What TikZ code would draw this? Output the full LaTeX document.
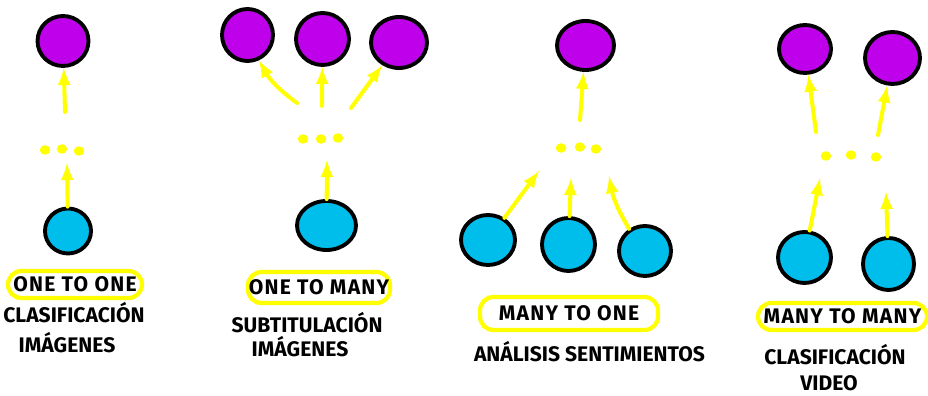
\documentclass[tikz,border=0pt]{standalone}
\usepackage{fontspec}
\setmainfont{Fira Sans}
\usepackage{tikz}
\usepackage{xcolor}
\usetikzlibrary{positioning, arrows}
\usetikzlibrary{shapes, positioning}
\definecolor{violeta}{RGB}{190,0,235}
\definecolor{celeste}{RGB}{0,190,236}
\definecolor{amarillo}{RGB}{255,255,0}

\begin{document}
\begin{tikzpicture}[
        salida/.style={ellipse, draw, line width=2.2pt, fill=violeta, inner sep=0pt},
        entrada/.style={ellipse, draw, line width=2.2pt, fill=celeste, inner sep=0pt},
        punto/.style={ellipse, fill=amarillo, inner sep=0pt, minimum width=0.21cm, minimum height=0.19cm},
        flecha/.style={-latex, draw=amarillo, line width=2.3pt, line cap=round},
        tipo/.style={draw=amarillo, line width=2.4pt, rounded corners=0.27cm, inner sep=0pt, font=\bfseries\fontsize{12}{14}\selectfont\addfontfeature{LetterSpace=6}},
        texto/.style={font=\bfseries\fontsize{12}{14}\selectfont}]
                    \useasboundingbox (0, 0) rectangle (18.56, 7.92);

                    % one to one
                    \node[salida, minimum width=1.02cm, minimum height=1.00cm] (s1) at (1.26, 7.10) {};
                    \node[entrada, minimum width=0.92cm, minimum height=0.90cm] (e1) at (1.36, 3.30) {};
                    \node[punto] (p1a) at (0.90, 4.92) {};
                    \node[punto] (p1b) at (1.24, 4.94) {};
                    \node[punto] (p1c) at (1.58, 4.90) {};
                    \coordinate (a1) at (1.34, 4.66);
                    \coordinate (b1) at (1.30, 5.68);
                    \draw[flecha] (e1) -- (a1);
                    \draw[flecha] (b1) -- (s1);
                    \node[tipo, minimum width=2.68cm, minimum height=0.54cm] (t1) at (1.50, 2.23) {ONE TO ONE};
                    \node[texto] (c1) at (1.48, 1.66) {CLASIFICACIÓN};
                    \node[texto] (d1) at (1.34, 1.06) {IMÁGENES};

                    % one to many
                    \node[salida, minimum width=1.02cm, minimum height=1.04cm] (s2a) at (4.95, 7.22) {};
                    \node[salida, minimum width=1.06cm, minimum height=1.04cm] (s2b) at (6.45, 7.14) {};
                    \node[salida, minimum width=1.12cm, minimum height=1.02cm] (s2c) at (7.98, 7.07) {};
                    \node[entrada, minimum width=1.18cm, minimum height=0.98cm] (e2) at (6.53, 3.41) {};
                    \node[punto] (p2a) at (6.06, 5.14) {};
                    \node[punto] (p2b) at (6.42, 5.14) {};
                    \node[punto] (p2c) at (6.76, 5.16) {};
                    \coordinate (a2) at (6.54, 4.72);
                    \coordinate (b2a) at (5.94, 5.86);
                    \coordinate (b2b) at (6.44, 5.80);
                    \coordinate (b2c) at (7.02, 5.76);
                    \draw[flecha] (e2) -- (a2);
                    \draw[flecha] (b2a) to[bend left=12] (s2a);
                    \draw[flecha] (b2b) -- (s2b);
                    \draw[flecha] (b2c) -- (s2c);
                    \node[tipo, minimum width=2.84cm, minimum height=0.62cm] (t2) at (6.38, 2.17) {ONE TO MANY};
                    \node[texto] (c2) at (6.14, 1.46) {SUBTITULACIÓN};
                    \node[texto] (d2) at (6.00, 0.98) {IMÁGENES};

                    % many to one
                    \node[salida, minimum width=1.14cm, minimum height=0.98cm] (s3) at (11.71, 7.01) {};
                    \node[entrada, minimum width=1.08cm, minimum height=1.00cm] (e3a) at (9.76, 3.12) {};
                    \node[entrada, minimum width=1.06cm, minimum height=1.06cm] (e3b) at (11.37, 3.03) {};
                    \node[entrada, minimum width=1.04cm, minimum height=1.00cm] (e3c) at (12.90, 2.90) {};
                    \node[punto] (p3a) at (11.22, 4.96) {};
                    \node[punto] (p3b) at (11.60, 4.98) {};
                    \node[punto] (p3c) at (11.92, 4.94) {};
                    \coordinate (a3a) at (10.78, 4.50);
                    \coordinate (a3b) at (11.42, 4.36);
                    \coordinate (a3c) at (12.18, 4.40);
                    \coordinate (b3) at (11.60, 5.52);
                    \draw[flecha] (e3a) -- (a3a);
                    \draw[flecha] (e3b) -- (a3b);
                    \draw[flecha] (e3c) to[bend left=10] (a3c);
                    \draw[flecha] (b3) -- (s3);
                    \node[tipo, minimum width=3.56cm, minimum height=0.66cm] (t3) at (11.38, 1.65) {MANY TO ONE};
                    \node[texto] (c3) at (11.79, 0.88) {ANÁLISIS SENTIMIENTOS};

                    % many to many
                    \node[salida, minimum width=1.04cm, minimum height=0.96cm] (s4a) at (16.10, 6.94) {};
                    \node[salida, minimum width=1.10cm, minimum height=1.04cm] (s4b) at (17.85, 6.76) {};
                    \node[entrada, minimum width=1.06cm, minimum height=1.02cm] (e4a) at (16.09, 2.77) {};
                    \node[entrada, minimum width=1.02cm, minimum height=1.04cm] (e4b) at (17.77, 2.64) {};
                    \node[punto] (p4a) at (16.52, 4.80) {};
                    \node[punto] (p4b) at (17.02, 4.82) {};
                    \node[punto] (p4c) at (17.52, 4.78) {};
                    \coordinate (a4a) at (16.40, 4.36);
                    \coordinate (a4b) at (17.72, 4.08);
                    \coordinate (b4a) at (16.32, 5.28);
                    \coordinate (b4b) at (17.56, 5.22);
                    \draw[flecha] (e4a) -- (a4a);
                    \draw[flecha] (e4b) -- (a4b);
                    \draw[flecha] (b4a) -- (s4a);
                    \draw[flecha] (b4b) -- (s4b);
                    \node[tipo, minimum width=3.38cm, minimum height=0.54cm] (t4) at (16.85, 1.59) {MANY TO MANY};
                    \node[texto] (c4) at (16.70, 0.82) {CLASIFICACIÓN};
                    \node[texto] (d4) at (16.58, 0.26) {VIDEO};
                \end{tikzpicture}
\end{document}
